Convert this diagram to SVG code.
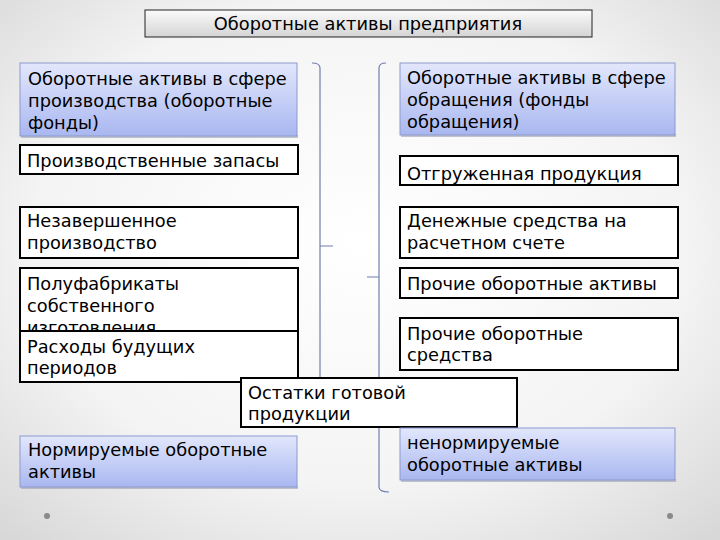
<svg xmlns="http://www.w3.org/2000/svg" width="720" height="540" viewBox="0 0 720 540">
<defs>
<radialGradient id="bg" cx="0.5" cy="0.45" r="0.75">
<stop offset="0" stop-color="#ffffff"/>
<stop offset="0.6" stop-color="#f4f4f4"/>
<stop offset="1" stop-color="#d6d6d6"/>
</radialGradient>
<linearGradient id="blue" x1="0" y1="0" x2="0" y2="1">
<stop offset="0" stop-color="#e2e7fc"/>
<stop offset="1" stop-color="#a9b7f0"/>
</linearGradient>
<linearGradient id="gray" x1="0" y1="0" x2="0" y2="1">
<stop offset="0" stop-color="#fbfbfb"/>
<stop offset="1" stop-color="#d4d4d4"/>
</linearGradient>
</defs>
<style>
text{font-family:"DejaVu Sans","Noto Sans",sans-serif;font-size:17.8px;fill:#000}
.w{fill:#fff;stroke:#000;stroke-width:2}
.b{fill:url(#blue);stroke:#8d99cc;stroke-width:1}
.sh{fill:#9aa0b4;opacity:0.6}
.br{fill:none;stroke:#6f7fae;stroke-width:1.2}
</style>
<rect width="720" height="540" fill="url(#bg)"/>
<g id="title">
<rect x="145" y="10" width="447" height="27" fill="url(#gray)" stroke="#222" stroke-width="1"/>
<text x="368" y="30" text-anchor="middle">Оборотные активы предприятия</text>
</g>
<g id="connectors">
<path class="br" d="M312,63 Q320,63 320,68 L320,377 M320,246 L333,246"/>
<path class="br" d="M386,63 Q379,63 379,68 L379,487 Q379,492 389,492 M379,277 L367,277"/>
</g>
<g id="prod-sphere">
<rect class="sh" x="21" y="135" width="277" height="3"/>
<rect class="b" x="20" y="63" width="277" height="73"/>
<text x="28" y="85">Оборотные активы в сфере</text>
<text x="28" y="107">производства (оборотные</text>
<text x="28" y="129">фонды)</text>
</g>
<g id="circ-sphere">
<rect class="sh" x="401" y="134" width="275" height="3"/>
<rect class="b" x="400" y="63" width="275" height="72"/>
<text x="407" y="84">Оборотные активы в сфере</text>
<text x="407" y="106">обращения (фонды</text>
<text x="407" y="128">обращения)</text>
</g>
<g id="zapasy">
<rect class="w" x="20" y="145" width="278" height="29"/>
<text x="27" y="167">Производственные запасы</text>
</g>
<g id="otgruzh">
<rect class="w" x="400" y="156" width="278" height="29"/>
<text x="407" y="180">Отгруженная продукция</text>
</g>
<g id="nezav">
<rect class="w" x="20" y="207" width="278" height="51"/>
<text x="27" y="227">Незавершенное</text>
<text x="27" y="249">производство</text>
</g>
<g id="den">
<rect class="w" x="400" y="207" width="278" height="51"/>
<text x="407" y="227">Денежные средства на</text>
<text x="407" y="249">расчетном счете</text>
</g>
<g id="polufab">
<rect class="w" x="20" y="268" width="278" height="63"/>
<text x="27" y="290">Полуфабрикаты</text>
<text x="27" y="312">собственного</text>
<text x="27" y="334">изготовления</text>
</g>
<g id="prochie-akt">
<rect class="w" x="400" y="268" width="278" height="30"/>
<text x="407" y="290">Прочие оборотные активы</text>
</g>
<g id="rashody">
<rect class="w" x="20" y="331" width="278" height="51"/>
<text x="27" y="353">Расходы будущих</text>
<text x="27" y="374">периодов</text>
</g>
<g id="prochie-sr">
<rect class="w" x="400" y="318" width="278" height="52"/>
<text x="407" y="340">Прочие оборотные</text>
<text x="407" y="361">средства</text>
</g>
<g id="ostatki">
<rect class="w" x="241" y="378" width="276" height="49"/>
<text x="248" y="399">Остатки готовой</text>
<text x="248" y="420">продукции</text>
</g>
<g id="norm">
<rect class="sh" x="21" y="486" width="277" height="3"/>
<rect class="b" x="20" y="436" width="277" height="51"/>
<text x="28" y="456">Нормируемые оборотные</text>
<text x="28" y="478">активы</text>
</g>
<g id="nenorm">
<rect class="sh" x="401" y="479" width="275" height="3"/>
<rect class="b" x="400" y="428" width="275" height="52"/>
<text x="407" y="449">ненормируемые</text>
<text x="407" y="471">оборотные активы</text>
</g>
<circle cx="47" cy="516" r="3" fill="#8a8a8a"/>
<circle cx="670" cy="516" r="3" fill="#8a8a8a"/>
</svg>
